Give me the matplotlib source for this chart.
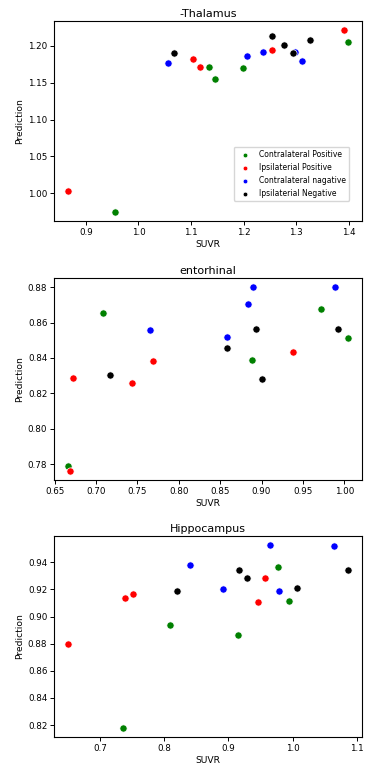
import matplotlib
matplotlib.use("Agg")
import matplotlib.pyplot as plt

groups = ["Contralateral Positive", "Ipsilaterial Positive",
          "Contralateral nagative", "Ipsilaterial Negative"]
colors = ["green", "red", "blue", "black"]

# -Thalamus
thal_x = {
    "Contralateral Positive": [0.9545, 1.1333, 1.1453, 1.1997, 1.3994],
    "Ipsilaterial Positive": [0.8664, 1.1040, 1.1167, 1.2542, 1.3911],
    "Contralateral nagative": [1.0559, 1.2067, 1.2365, 1.2980, 1.3106],
    "Ipsilaterial Negative": [1.0673, 1.2542, 1.2764, 1.2942, 1.3258],
}
thal_y = {
    "Contralateral Positive": [0.9748, 1.1716, 1.1554, 1.1703, 1.2050],
    "Ipsilaterial Positive": [1.0032, 1.1824, 1.1716, 1.1937, 1.2212],
    "Contralateral nagative": [1.1766, 1.1865, 1.1910, 1.1910, 1.1788],
    "Ipsilaterial Negative": [1.1901, 1.2126, 1.2014, 1.1901, 1.2077],
}

# entorhinal
ento_x = {
    "Contralateral Positive": [0.6665, 0.7079, 0.8883, 0.9718, 1.0048],
    "Ipsilaterial Positive": [0.6681, 0.6721, 0.7436, 0.7693, 0.9381],
    "Contralateral nagative": [0.7649, 0.8581, 0.8834, 0.8891, 0.9883],
    "Ipsilaterial Negative": [0.7167, 0.8581, 0.8935, 0.9003, 0.9927],
}
ento_y = {
    "Contralateral Positive": [0.7788, 0.8654, 0.8386, 0.8675, 0.8511],
    "Ipsilaterial Positive": [0.7762, 0.8286, 0.8259, 0.8381, 0.8432],
    "Contralateral nagative": [0.8559, 0.8521, 0.8705, 0.8800, 0.8800],
    "Ipsilaterial Negative": [0.8303, 0.8455, 0.8561, 0.8282, 0.8565],
}

# Hippocampus
hipp_x = {
    "Contralateral Positive": [0.7353, 0.8085, 0.9153, 0.9781, 0.9942],
    "Ipsilaterial Positive": [0.6502, 0.7384, 0.7508, 0.9459, 0.9568],
    "Contralateral nagative": [0.8401, 0.8920, 0.9656, 0.9796, 1.0647],
    "Ipsilaterial Negative": [0.8198, 0.9163, 0.9293, 1.0066, 1.0870],
}
hipp_y = {
    "Contralateral Positive": [0.8180, 0.8939, 0.8865, 0.9368, 0.9117],
    "Ipsilaterial Positive": [0.8796, 0.9136, 0.9166, 0.9109, 0.9287],
    "Contralateral nagative": [0.9383, 0.9200, 0.9526, 0.9191, 0.9518],
    "Ipsilaterial Negative": [0.9191, 0.9341, 0.9287, 0.9213, 0.9341],
}

titles = ["-Thalamus", "entorhinal", "Hippocampus"]
datasets = [(thal_x, thal_y), (ento_x, ento_y), (hipp_x, hipp_y)]

W, H = 367, 769
fig = plt.figure(figsize=(W / 100, H / 100), dpi=100)

# axes boxes in pixels: (left, top, right, bottom)
boxes = [(54.3, 21, 362.3, 221), (54.3, 278, 362.3, 480), (54.3, 536, 362.3, 737)]

for i, ((dx, dy), title, (l, t, r, b)) in enumerate(zip(datasets, titles, boxes)):
    ax = fig.add_axes([l / W, 1 - b / H, (r - l) / W, (b - t) / H])
    for g, c in zip(groups, colors):
        ax.scatter(dx[g], dy[g], s=27, color=c, edgecolor="white",
                   linewidth=0.5, label=g, zorder=3)
    ax.set_title(title, fontsize=8, pad=3)
    ax.set_xlabel("SUVR", fontsize=6.6, labelpad=2)
    ax.set_ylabel("Prediction", fontsize=6.6, labelpad=3)
    ax.tick_params(labelsize=6.3, length=3, width=0.7, pad=2)
    for sp in ax.spines.values():
        sp.set_linewidth(0.8)
    if i == 0:
        ax.legend(loc="lower right", bbox_to_anchor=(0.957, 0.10),
                  borderaxespad=0, fontsize=5.5, markerscale=0.65,
                  handletextpad=0.8, borderpad=0.45, labelspacing=0.5,
                  framealpha=0.8)

fig.savefig("out.png", dpi=100)
